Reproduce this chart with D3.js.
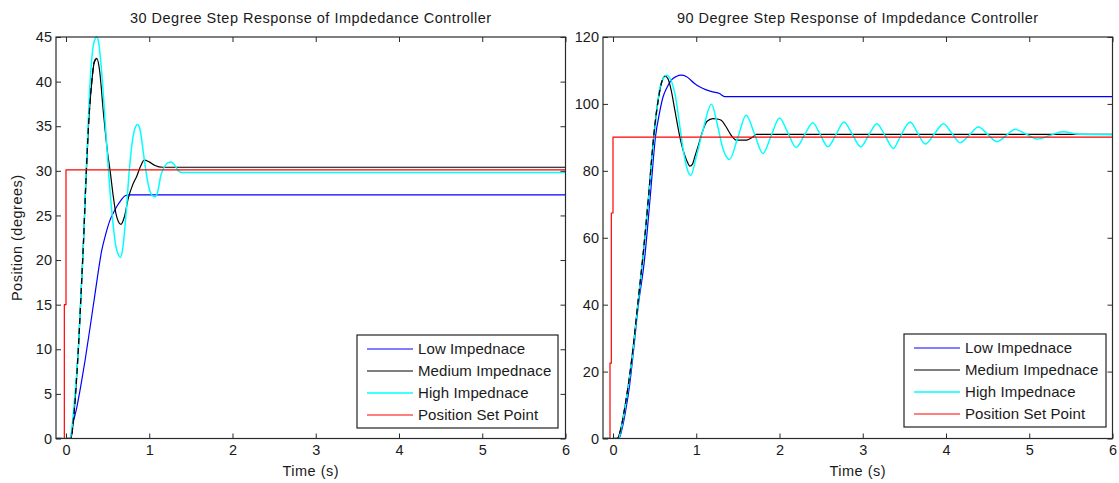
<!DOCTYPE html>
<html><head><meta charset="utf-8">
<script src="https://cdn.jsdelivr.net/npm/d3@7"></script>
<style>
body{margin:0;background:#fff;}
text{font-family:"Liberation Sans",Arial,Helvetica,sans-serif;fill:#1a1a1a;}
</style>
</head><body>
<svg id="chart" width="1119" height="483"></svg>
<script>
// ---------- data ----------
const seriesNames = ["Low Impednace", "Medium Impednace", "High Impednace", "Position Set Point"];
const titles = ["30 Degree Step Response of Impdedance Controller", "90 Degree Step Response of Impdedance Controller"];
const xTicks = [0, 1, 2, 3, 4, 5, 6];
const yTicks30 = [0, 5, 10, 15, 20, 25, 30, 35, 40, 45];
const yTicks90 = [0, 20, 40, 60, 80, 100, 120];

// 30 degree step
const lowT30  = [-0.12, 0.05, 0.08, 0.13, 0.18, 0.23, 0.29, 0.35, 0.43, 0.48, 0.53, 0.57, 0.61, 0.66, 0.71, 0.76, 6];
const lowV30  = [0, 0, 1.5, 3.5, 6, 8.8, 12.5, 16.3, 21.1, 23, 24.5, 25.3, 26.0, 26.7, 27.2, 27.3, 27.3];
const medT30  = [-0.12, 0.06, 0.09, 0.115, 0.15, 0.18, 0.21, 0.24, 0.27, 0.31, 0.34, 0.37, 0.40, 0.45, 0.50, 0.53, 0.57, 0.60, 0.63, 0.66, 0.70, 0.75, 0.80, 0.85, 0.90, 0.94, 1.0, 1.07, 1.16, 6];
const medV30  = [0, 0, 2.2, 5, 10.3, 16, 22, 29, 35, 40, 42.2, 42.6, 41.5, 36.5, 32, 30, 27, 25.2, 24.3, 24.0, 24.8, 27.0, 28.4, 29.4, 30.6, 31.2, 31.0, 30.6, 30.4, 30.4];
const highT30 = [-0.12, 0.05, 0.08, 0.108, 0.15, 0.18, 0.21, 0.237, 0.26, 0.29, 0.32, 0.35, 0.37, 0.39, 0.42, 0.46, 0.51, 0.55, 0.60, 0.63, 0.655, 0.68, 0.72, 0.76, 0.80, 0.83, 0.86, 0.89, 0.93, 0.96, 1.0, 1.04, 1.07, 1.10, 1.14, 1.18, 1.22, 1.265, 1.30, 1.35, 1.40, 6];
const highV30 = [0, 0, 2, 5, 10.3, 16.2, 21.8, 28.9, 34, 40, 43.5, 44.8, 45, 44.5, 42, 37, 30, 25.5, 21.5, 20.6, 20.3, 21.2, 25, 30, 33.5, 34.8, 35.2, 34.6, 32, 30, 28, 27.2, 27.1, 27.6, 29.5, 30.4, 30.9, 31.0, 30.7, 30.0, 29.8, 29.8];
const setT30  = [-0.12, -0.02, -0.02, 0, 0, 6];
const setV30  = [0, 0, 15, 15, 30.1, 30.1];

// 90 degree step
const lowT90  = [-0.12, 0.07, 0.10, 0.15, 0.20, 0.25, 0.30, 0.378, 0.45, 0.51, 0.56, 0.60, 0.65, 0.70, 0.76, 0.82, 0.88, 0.98, 1.04, 1.12, 1.20, 1.28, 1.34, 6];
const lowV90  = [0, 0, 2, 8, 16, 27, 39, 53.3, 73, 90.1, 97.5, 102, 105, 107.1, 108.2, 108.6, 108.2, 106.1, 105.1, 104.2, 103.6, 103.1, 102.2, 102.2];
const medT90  = [-0.12, 0.05, 0.09, 0.147, 0.227, 0.306, 0.366, 0.426, 0.466, 0.505, 0.545, 0.585, 0.625, 0.66, 0.70, 0.744, 0.804, 0.844, 0.884, 0.924, 0.955, 0.983, 1.03, 1.08, 1.13, 1.20, 1.25, 1.30, 1.36, 1.42, 1.48, 1.60, 1.68, 1.72, 6];
const medV90  = [0, 0, 2.5, 10, 24, 42, 56, 72, 84, 94, 101.5, 106.5, 108.3, 107.5, 104, 98, 90, 86, 83.2, 81.4, 82, 84.2, 88, 92.1, 94.8, 95.6, 95.5, 95.1, 93.1, 90.6, 89.2, 89.2, 90.1, 90.9, 90.9];
const highT90 = [-0.12, 0.067, 0.10, 0.147, 0.227, 0.306, 0.366, 0.426, 0.466, 0.505, 0.565, 0.645, 0.744, 0.804, 0.844, 0.896, 0.935, 1.0, 1.08, 1.183, 1.26, 1.32, 1.40, 1.50, 1.60, 1.70, 1.80, 1.90, 2.0, 2.10, 2.20, 2.30, 2.40, 2.49, 2.58, 2.68, 2.775, 2.875, 2.975, 3.07, 3.17, 3.27, 3.37, 3.43, 3.57, 3.66, 3.75, 3.86, 3.97, 4.07, 4.17, 4.28, 4.39, 4.50, 4.61, 4.72, 4.83, 4.96, 5.10, 5.25, 5.40, 5.60, 6];
const highV90 = [0, 0, 3, 9.5, 23.4, 41.4, 55.3, 71.2, 83.2, 93.1, 105.1, 108.6, 103.1, 93.1, 86.2, 80.2, 78.7, 84.2, 92.1, 99.9, 93.1, 86.7, 83.4, 90, 96.6, 91, 85.2, 90.5, 95.8, 91.4, 87.0, 90.7, 94.4, 90.8, 87.2, 90.9, 94.6, 90.9, 87.2, 90.6, 94.1, 90.4, 86.7, 89.2, 94.6, 91.3, 88.0, 91, 94.1, 91.2, 88.4, 90.7, 93.1, 90.9, 88.7, 90.5, 92.4, 91, 89.5, 90.6, 91.7, 90.9, 90.8];
const setT90  = [-0.12, -0.036, -0.036, -0.02, -0.02, 0, 0, 6];
const setV90  = [0, 0, 22.5, 22.5, 67.4, 67.4, 90.1, 90.1];

const colors = ["#0000ff", "#000000", "#00ffff", "#ff0000"];
const widths = [1.2, 1.2, 1.5, 1.2];

const panels = [
  {left: 56, right: 565.5, top: 37, bottom: 438.5, yMax: 45, yTicks: yTicks30, title: titles[0], ylabel: true,
   series: [[lowT30, lowV30], [medT30, medV30], [highT30, highV30], [setT30, setV30]],
   legend: {x: 357, y: 335, w: 201, h: 93}},
  {left: 603, right: 1112.5, top: 37, bottom: 438.5, yMax: 120, yTicks: yTicks90, title: titles[1], ylabel: false,
   series: [[lowT90, lowV90], [medT90, medV90], [highT90, highV90], [setT90, setV90]],
   legend: {x: 904, y: 334, w: 202, h: 93}}
];

const svg = d3.select("#chart");
svg.append("rect").attr("width", 1119).attr("height", 483).attr("fill", "#fff");
const FS = 14.5, LS = "0.5px", FSL = 15, LSL = "0.1px";

panels.forEach((p, pi) => {
  const x = d3.scaleLinear().domain([-0.12, 6]).range([p.left, p.right]);
  const y = d3.scaleLinear().domain([0, p.yMax]).range([p.bottom, p.top]);
  const g = svg.append("g");
  const clipId = "clip" + pi;
  g.append("clipPath").attr("id", clipId).append("rect")
    .attr("x", p.left).attr("y", p.top - 2).attr("width", p.right - p.left).attr("height", p.bottom - p.top + 2);

  const toPts = (s) => s[0].map((t, i) => [t, s[1][i]]);
  const smooth = d3.line().x(d => x(d[0])).y(d => y(d[1])).curve(d3.curveMonotoneX);
  const straight = d3.line().x(d => x(d[0])).y(d => y(d[1]));

  const plot = g.append("g").attr("clip-path", `url(#${clipId})`);
  p.series.forEach((s, si) => {
    const pts = toPts(s);
    plot.append("path").attr("d", si === 3 ? straight(pts) : smooth(pts))
      .attr("fill", "none").attr("stroke", colors[si]).attr("stroke-width", widths[si])
      .attr("stroke-linejoin", "round");
    if (si === 2) {
      // medium response drawn dashed over the high response on its rising edge
      const med = toPts(p.series[1]);
      const pk = d3.maxIndex(med, d => d[1]);
      plot.append("path").attr("d", smooth(med.slice(0, pk + 1)))
        .attr("fill", "none").attr("stroke", "#000").attr("stroke-width", 1.3)
        .attr("stroke-dasharray", "6,4");
    }
  });

  // axes (inward ticks on all sides)
  const axCol = "#2a2a2a";
  const fmt = d3.format("d");
  const bottom = g.append("g").attr("transform", `translate(0,${p.bottom})`)
    .call(d3.axisBottom(x).tickValues(xTicks).tickFormat(fmt).tickSizeInner(-5).tickSizeOuter(0).tickPadding(6));
  const top = g.append("g").attr("transform", `translate(0,${p.top})`)
    .call(d3.axisTop(x).tickValues(xTicks).tickSizeInner(-5).tickSizeOuter(0).tickFormat(""));
  const left = g.append("g").attr("transform", `translate(${p.left},0)`)
    .call(d3.axisLeft(y).tickValues(p.yTicks).tickFormat(fmt).tickSizeInner(-5).tickSizeOuter(0).tickPadding(4));
  const right = g.append("g").attr("transform", `translate(${p.right},0)`)
    .call(d3.axisRight(y).tickValues(p.yTicks).tickSizeInner(-5).tickSizeOuter(0).tickFormat(""));
  [bottom, top, left, right].forEach(a => {
    a.selectAll("path.domain").remove();
    a.selectAll("line").attr("stroke", axCol).attr("stroke-width", 1);
    a.selectAll("text").attr("font-size", FS).attr("letter-spacing", "0px")
      .attr("font-family", '"Liberation Sans", Arial, sans-serif').attr("fill", "#1a1a1a");
  });
  g.append("rect").attr("x", p.left).attr("y", p.top).attr("width", p.right - p.left).attr("height", p.bottom - p.top)
    .attr("fill", "none").attr("stroke", axCol).attr("stroke-width", 1.2);

  // title and labels
  const cx = (p.left + p.right) / 2;
  g.append("text").attr("x", cx).attr("y", 23).attr("text-anchor", "middle")
    .attr("font-size", FS).attr("letter-spacing", LS).text(p.title);
  g.append("text").attr("x", cx).attr("y", 476).attr("text-anchor", "middle")
    .attr("font-size", FS).attr("letter-spacing", LS).text("Time (s)");
  if (p.ylabel) {
    g.append("text").attr("transform", `translate(22,${(p.top + p.bottom) / 2}) rotate(-90)`)
      .attr("text-anchor", "middle").attr("font-size", FS).attr("letter-spacing", LS).text("Position (degrees)");
  }

  // legend
  const L = p.legend;
  const lg = g.append("g");
  lg.append("rect").attr("x", L.x).attr("y", L.y).attr("width", L.w).attr("height", L.h)
    .attr("fill", "#fff").attr("stroke", "#222").attr("stroke-width", 1.2);
  seriesNames.forEach((name, i) => {
    const ry = L.y + 14 + i * 22;
    lg.append("line").attr("x1", L.x + 10).attr("x2", L.x + 56).attr("y1", ry).attr("y2", ry)
      .attr("stroke", colors[i]).attr("stroke-width", widths[i]);
    lg.append("text").attr("x", L.x + 61).attr("y", ry + 5).attr("font-size", FSL)
      .attr("letter-spacing", LSL).text(name);
  });
});
</script>
</body></html>
